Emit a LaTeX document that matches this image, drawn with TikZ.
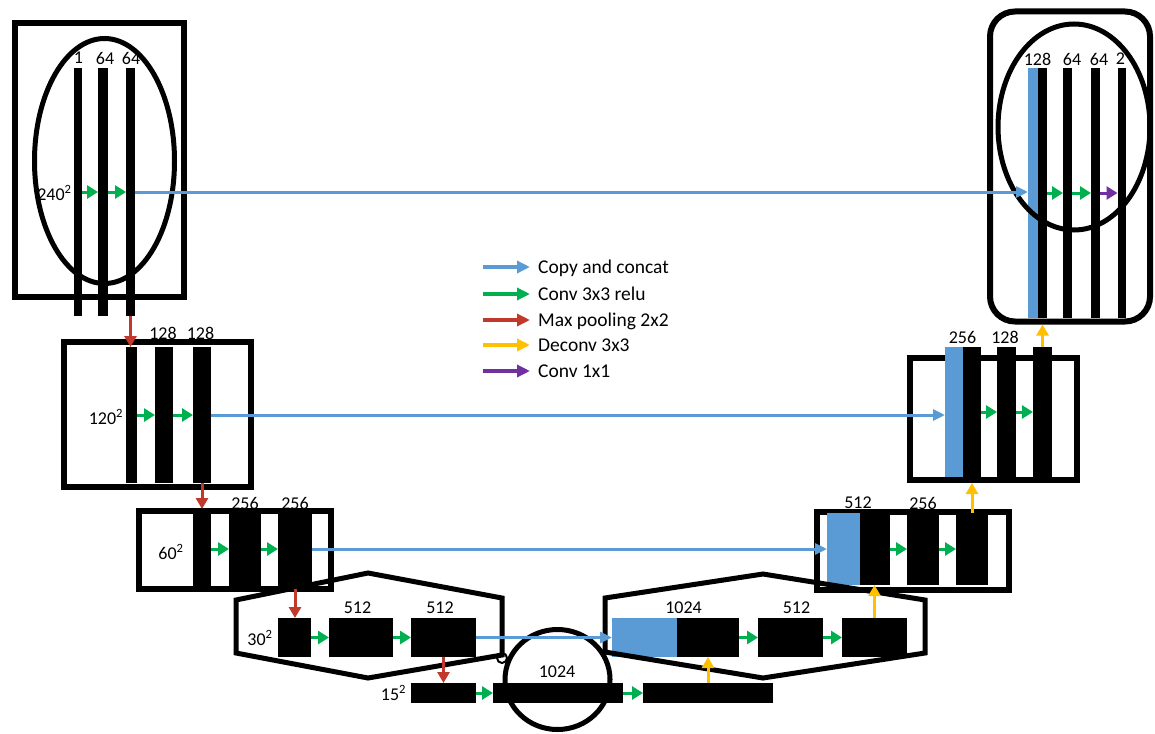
\documentclass[tikz,border=0pt]{standalone}
\usepackage{fontspec}
\setmainfont{Carlito}
\usetikzlibrary{shapes.geometric, arrows.meta}
\definecolor{copyblue}{RGB}{91,155,213}
\definecolor{convgreen}{RGB}{0,176,80}
\definecolor{poolred}{RGB}{192,57,43}
\definecolor{upyellow}{RGB}{255,192,0}
\definecolor{onepurple}{RGB}{112,48,160}

\begin{document}
\begin{tikzpicture}[x=1pt, y=-1pt, font=\fontsize{18}{21}\selectfont,
    fmap/.style={rectangle, fill=black, inner sep=0pt, outer sep=0pt},
    cmap/.style={rectangle, fill=copyblue, inner sep=0pt, outer sep=0pt},
    blockframe/.style={rectangle, draw=black, line width=6pt, inner sep=0pt},
    oval/.style={ellipse, draw=black, line width=5pt, inner sep=0pt},
    hexa/.style={draw=black, line width=5pt, line join=miter},
    lbl/.style={inner sep=0pt},
    copyarr/.style={-{Triangle[length=12pt, width=11pt]}, line width=3pt, copyblue},
    conv/.style={-{Triangle[length=11pt, width=13pt]}, line width=3pt, convgreen},
    pool/.style={-{Triangle[length=11pt, width=12pt]}, line width=3pt, poolred},
    deconv/.style={-{Triangle[length=11pt, width=12pt]}, line width=3pt, upyellow},
    onebyone/.style={-{Triangle[length=11pt, width=13pt]}, line width=3pt, onepurple},
    keyarr/.style={-{Triangle[length=13pt, width=12pt]}, line width=4pt},
    keytext/.style={anchor=west, inner sep=0pt, text height=12pt, text depth=0pt,
        font=\fontsize{19.5}{22}\selectfont}
]
\useasboundingbox (0,0) rectangle (1155,733);

% Frames around the levels
\node[blockframe, minimum width=168.5pt, minimum height=273pt] (frm1l) at (99.25,160) {};
\node[blockframe, rounded corners=25pt, minimum width=160pt, minimum height=310pt] (frm1r) at (1070,166.5) {};
\node[blockframe, minimum width=187.5pt, minimum height=145pt] (frm2l) at (157.25,414) {};
\node[blockframe, minimum width=167pt, minimum height=122pt] (frm2r) at (993.5,419) {};
\node[blockframe, minimum width=192pt, minimum height=77.5pt] (frm3l) at (234.5,549.75) {};
\node[blockframe, minimum width=192pt, minimum height=78.5pt] (frm3r) at (912.5,550.75) {};

% Level 1 (240^2)
\node[fmap, minimum width=8pt, minimum height=248pt] (e1a) at (78,192) {};
\node[fmap, minimum width=10pt, minimum height=248pt] (e1b) at (103,192) {};
\node[fmap, minimum width=9pt, minimum height=248pt] (e1c) at (130.5,192) {};
\node[cmap, minimum width=10pt, minimum height=250pt] (d1a) at (1033,193) {};
\node[fmap, minimum width=9pt, minimum height=250pt] (d1b) at (1042.5,193) {};
\node[fmap, minimum width=9pt, minimum height=250pt] (d1c) at (1067.5,193) {};
\node[fmap, minimum width=9pt, minimum height=250pt] (d1d) at (1095.5,193) {};
\node[fmap, minimum width=8pt, minimum height=250pt] (d1e) at (1121.5,193) {};

% Level 2 (120^2)
\node[fmap, minimum width=11pt, minimum height=136pt] (e2a) at (131.5,415) {};
\node[fmap, minimum width=18pt, minimum height=136pt] (e2b) at (164,415) {};
\node[fmap, minimum width=18pt, minimum height=136pt] (e2c) at (202,415) {};
\node[cmap, minimum width=18pt, minimum height=130pt] (d2a) at (954,412) {};
\node[fmap, minimum width=18pt, minimum height=130pt] (d2b) at (972,412) {};
\node[fmap, minimum width=19pt, minimum height=130pt] (d2c) at (1006.5,412) {};
\node[fmap, minimum width=19pt, minimum height=130pt] (d2d) at (1042.5,412) {};

% Level 3 (60^2)
\node[fmap, minimum width=18pt, minimum height=80pt] (e3a) at (202,549) {};
\node[fmap, minimum width=32pt, minimum height=80pt] (e3b) at (245,549) {};
\node[fmap, minimum width=34pt, minimum height=80pt] (e3c) at (295,549) {};
\node[cmap, minimum width=33pt, minimum height=72pt] (d3a) at (843.5,549) {};
\node[fmap, minimum width=30pt, minimum height=72pt] (d3b) at (875,549) {};
\node[fmap, minimum width=32pt, minimum height=72pt] (d3c) at (923,549) {};
\node[fmap, minimum width=32pt, minimum height=72pt] (d3d) at (972,549) {};

% Level 4 (30^2)
\node[fmap, minimum width=33pt, minimum height=39pt] (e4a) at (294.5,637.5) {};
\node[fmap, minimum width=64pt, minimum height=39pt] (e4b) at (361,637.5) {};
\node[fmap, minimum width=65pt, minimum height=39pt] (e4c) at (443.5,637.5) {};
\node[cmap, minimum width=65pt, minimum height=39pt] (d4a) at (644.5,637.5) {};
\node[fmap, minimum width=62pt, minimum height=39pt] (d4b) at (708,637.5) {};
\node[fmap, minimum width=65pt, minimum height=39pt] (d4c) at (790.5,637.5) {};
\node[fmap, minimum width=65pt, minimum height=39pt] (d4d) at (874.5,637.5) {};

% Bottom (15^2)
\node[fmap, minimum width=65pt, minimum height=20pt] (b1) at (443.5,693) {};
\node[fmap, minimum width=130pt, minimum height=20pt] (b2) at (558,693) {};
\node[fmap, minimum width=130pt, minimum height=20pt] (b3) at (708,693) {};

% Ovals, hexagons and circle
\node[oval, minimum width=140pt, minimum height=245pt] (ovl1l) at (104.5,161) {};
\node[oval, minimum width=152pt, minimum height=206pt] (ovl1r) at (1074,127) {};
\node[oval, minimum width=105pt, minimum height=100pt] (ovl5) at (557.5,679.5) {};
\draw[hexa] (236,600) -- (368,573) -- (502,598) -- (502,655) -- (368,678) -- (236,653) -- cycle;
\draw[hexa] (605,598) -- (763,574) -- (925,600) -- (925,653) -- (763,678) -- (605,652) -- cycle;
\draw[line width=2pt] (502,658) circle[radius=5];

% Copy and concat
\draw[copyarr] (e1c.east) -- (e1c.east -| d1a.west);
\draw[copyarr] (e2c.east) -- (e2c.east -| d2a.west);
\draw[copyarr] (e3c.east) -- (e3c.east -| d3a.west);
\draw[copyarr] (e4c.east) -- (e4c.east -| d4a.west);

% Conv 3x3 relu
\draw[conv] (e1a) -- (e1b);
\draw[conv] (e1b) -- (e1c);
\draw[conv] (e2a) -- (e2b);
\draw[conv] (e2b) -- (e2c);
\draw[conv] (e3a) -- (e3b);
\draw[conv] (e3b) -- (e3c);
\draw[conv] (e4a) -- (e4b);
\draw[conv] (e4b) -- (e4c);
\draw[conv] (b1) -- (b2);
\draw[conv] (b2) -- (b3);
\draw[conv] (d4b) -- (d4c);
\draw[conv] (d4c) -- (d4d);
\draw[conv] (d3b) -- (d3c);
\draw[conv] (d3c) -- (d3d);
\draw[conv] (d2b) -- (d2c);
\draw[conv] (d2c) -- (d2d);
\draw[conv] (d1b) -- (d1c);
\draw[conv] (d1c) -- (d1d);
\draw[onebyone] (d1d) -- (d1e);

% Max pooling
\draw[pool] (e1c.south) -- (e1c.south |- e2a.north);
\draw[pool] (e2c.south) -- (e2c.south |- e3a.north);
\draw[pool] (e3c.south) -- (e3c.south |- e4a.north);
\draw[pool] (e4c.south) -- (e4c.south |- b1.north);

% Deconv
\draw[deconv] (b3.north -| d4b.south) -- (d4b.south);
\draw[deconv] (d4d.north) -- (d4d.north |- d3b.south);
\draw[deconv] (d3d.north) -- (d3d.north |- frm2r.south);
\draw[deconv] (d2d.north) -- (d2d.north |- frm1r.south);

% Channel labels
\node[lbl] (n1a) at (78.5,58) {1};
\node[lbl] (n1b) at (105,58) {64};
\node[lbl] (n1c) at (131,58) {64};
\node[lbl] (m1a) at (1037.5,59) {128};
\node[lbl] (m1b) at (1072,59) {64};
\node[lbl] (m1c) at (1099,59) {64};
\node[lbl] (m1d) at (1120.5,59) {2};
\node[lbl] (n2b) at (163,333) {128};
\node[lbl] (n2c) at (200.5,333) {128};
\node[lbl] (m2a) at (962.5,337.5) {256};
\node[lbl] (m2b) at (1005,337.5) {128};
\node[lbl] (n3b) at (245,503) {256};
\node[lbl] (n3c) at (295,503) {256};
\node[lbl] (m3a) at (858,503) {512};
\node[lbl] (m3b) at (923,503) {256};
\node[lbl] (n4b) at (357.5,607.5) {512};
\node[lbl] (n4c) at (440,607.5) {512};
\node[lbl] (m4a) at (683.5,607.5) {1024};
\node[lbl] (m4b) at (796.5,607.5) {512};
\node[lbl] (nb2) at (557,672) {1024};

% Resolution labels
\node[lbl] (r1) at (54.5,193) {240\textsuperscript{2}};
\node[lbl] (r2) at (106,417) {120\textsuperscript{2}};
\node[lbl] (r3) at (171,552) {60\textsuperscript{2}};
\node[lbl] (r4) at (260,638) {30\textsuperscript{2}};
\node[lbl] (r5) at (393.5,693) {15\textsuperscript{2}};

% Legend
\node[keytext] (lgcopy) at (538,267) {Copy and concat};
\node[keytext] (lgconv) at (538,294) {Conv 3x3 relu};
\node[keytext] (lgpool) at (538,320) {Max pooling 2x2};
\node[keytext] (lgdeconv) at (538,345) {Deconv 3x3};
\node[keytext] (lgone) at (538,371) {Conv 1x1};
\draw[keyarr, copyblue] ([xshift=-55pt]lgcopy.west) -- ([xshift=-8pt]lgcopy.west);
\draw[keyarr, convgreen] ([xshift=-55pt]lgconv.west) -- ([xshift=-8pt]lgconv.west);
\draw[keyarr, poolred] ([xshift=-55pt]lgpool.west) -- ([xshift=-8pt]lgpool.west);
\draw[keyarr, upyellow] ([xshift=-55pt]lgdeconv.west) -- ([xshift=-8pt]lgdeconv.west);
\draw[keyarr, onepurple] ([xshift=-55pt]lgone.west) -- ([xshift=-8pt]lgone.west);
\end{tikzpicture}
\end{document}
